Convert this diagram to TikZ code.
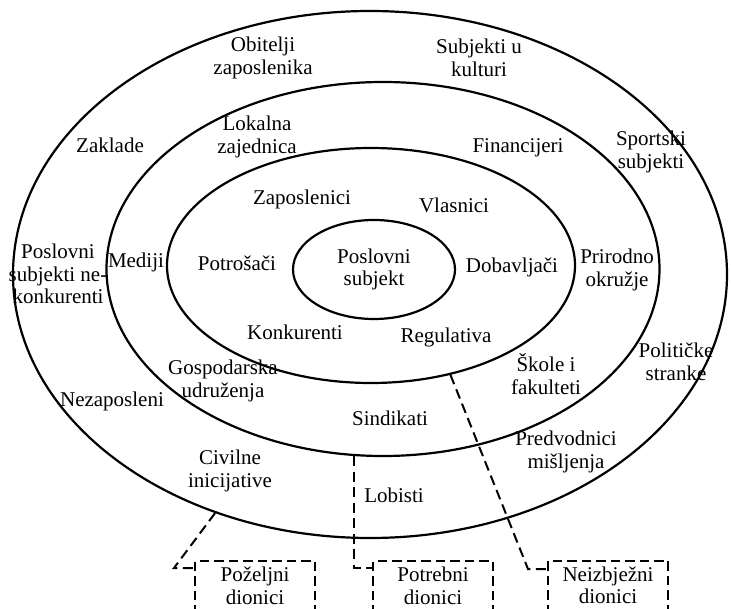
\documentclass[tikz,border=0pt]{standalone}
\usepackage{fontspec}
\setmainfont{Liberation Serif}
\usetikzlibrary{shapes.geometric}
\begin{document}
\begin{tikzpicture}[x=1pt,y=-1pt,
  lbl/.style={align=center,inner sep=0pt,font=\fontsize{21}{22.5}\selectfont},
  ring/.style={ellipse,draw,line width=2.2pt,inner sep=0pt},
  dbox/.style={rectangle,draw,line width=2pt,dash pattern=on 9.5pt off 5pt,
    minimum width=120pt,minimum height=49.5pt,anchor=north,align=center,
    inner sep=0pt,font=\fontsize{21}{22.5}\selectfont},
  link/.style={draw,line width=2pt,dash pattern=on 10pt off 5.5pt}]
\useasboundingbox (0,0) rectangle (731,609);
% rings
\node[ring,minimum width=714pt,minimum height=527pt] (outer) at (370,274.5) {};
\node[ring,minimum width=553pt,minimum height=374pt] (middle) at (383,269) {};
\node[ring,minimum width=408pt,minimum height=235pt] (inner) at (371,265.5) {};
\node[ring,minimum width=162pt,minimum height=99pt,align=center,font=\fontsize{21}{22.5}\selectfont] (core) at (374,269.5) {Poslovni\\subjekt};
% labels
\node[lbl] (obitelji) at (263,58) {Obitelji\\zaposlenika};
\node[lbl] (kultura) at (479,58) {Subjekti u\\kulturi};
\node[lbl] (zaklade) at (110,145) {Zaklade};
\node[lbl] (lokalna) at (257,137) {Lokalna\\zajednica};
\node[lbl] (financ) at (518,148) {Financijeri};
\node[lbl] (sport) at (651,152) {Sportski\\subjekti};
\node[lbl] (zaposl) at (302,199) {Zaposlenici};
\node[lbl] (vlasnici) at (454,205) {Vlasnici};
\node[lbl] (nekonk) at (58,274) {Poslovni\\subjekti ne-\\konkurenti};
\node[lbl] (mediji) at (136,262) {Mediji};
\node[lbl] (potros) at (237,263) {Potrošači};
\node[lbl] (dobav) at (512,267) {Dobavljači};
\node[lbl] (prirod) at (617,270) {Prirodno\\okružje};
\node[lbl] (konk) at (295,332) {Konkurenti};
\node[lbl] (regul) at (446,337) {Regulativa};
\node[lbl] (gosp) at (223,381) {Gospodarska\\udruženja};
\node[lbl] (nezap) at (112,401) {Nezaposleni};
\node[lbl] (sindik) at (390,418) {Sindikati};
\node[lbl] (skole) at (546,374) {Škole i\\fakulteti};
\node[lbl] (polit) at (676,362) {Političke\\stranke};
\node[lbl] (predv) at (566,452) {Predvodnici\\mišljenja};
\node[lbl] (civil) at (230,471) {Civilne\\inicijative};
\node[lbl] (lobisti) at (394,495) {Lobisti};
% boxes
\node[dbox] (b1) at (255,560) {Poželjni\\dionici};
\node[dbox] (b2) at (433,560) {Potrebni\\dionici};
\node[dbox] (b3) at (608,559.5) {Neizbježni\\dionici};
% connectors
\coordinate (k1) at (174,568);
\coordinate (k2) at (354,568);
\coordinate (k3) at (528,569);
\draw[link] (outer.-123) -- (k1) -- (k1 -| b1.west);
\draw[link] (k2 |- middle.-99) -- (k2) -- (k2 -| b2.west);
\draw[link] (inner.-54) -- (k3) -- (k3 -| b3.west);
\end{tikzpicture}
\end{document}
